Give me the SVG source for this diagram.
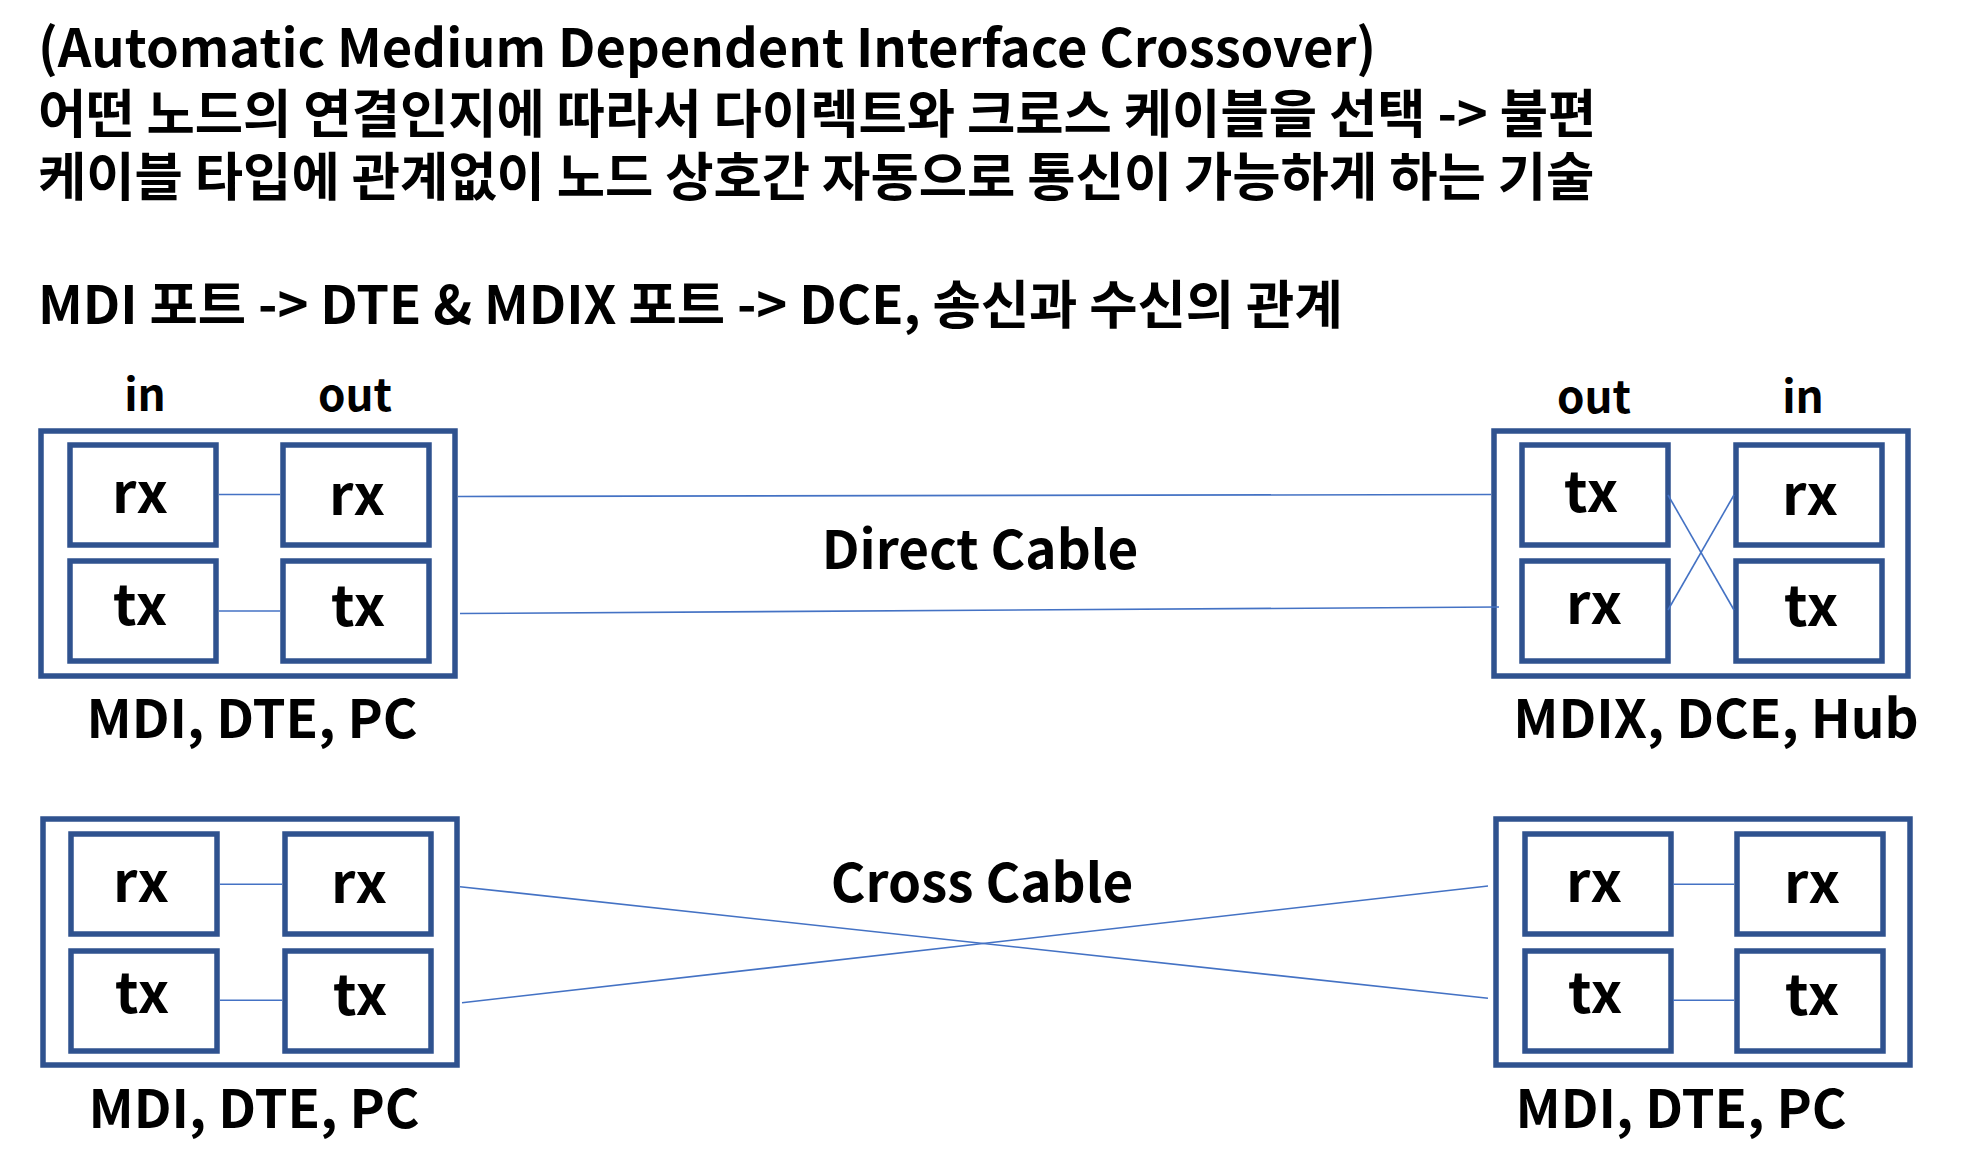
<svg xmlns="http://www.w3.org/2000/svg" width="1970" height="1154" viewBox="0 0 1970 1154">
<style>
text{font-family:"Noto Sans CJK KR","Noto Sans",sans-serif;font-weight:700;fill:#000}
.t{font-size:52.5px}
.lab{font-size:53px;text-anchor:middle}
.io{font-size:44px;text-anchor:middle}
.p{font-size:56px;text-anchor:middle}
.cab{font-size:53px;text-anchor:middle}
.ob{fill:#fff;stroke:#2F528F;stroke-width:5.5}
.ib{fill:#fff;stroke:#2F528F;stroke-width:5.5}
.c{stroke:#4472C4;stroke-width:1.6;fill:none}
</style>
<rect width="1970" height="1154" fill="#fff"/>
<g id="title">
<text class="t" x="38" y="67">(Automatic Medium Dependent Interface Crossover)</text>
<text class="t" x="38" y="133">어떤 노드의 연결인지에 따라서 다이렉트와 크로스 케이블을 선택 -&gt; 불편</text>
<text class="t" x="38" y="196">케이블 타입에 관계없이 노드 상호간 자동으로 통신이 가능하게 하는 기술</text>
<text class="t" x="38" y="324">MDI 포트 -&gt; DTE &amp; MDIX 포트 -&gt; DCE, 송신과 수신의 관계</text>
</g>
<g id="node-mdi-top">
<text class="io" x="145" y="411">in</text>
<text class="io" x="355" y="411">out</text>
<rect class="ob" x="41" y="431" width="414" height="245"/>
<rect class="ib" x="70" y="445" width="146" height="100"/>
<rect class="ib" x="283" y="445" width="146" height="100"/>
<rect class="ib" x="70" y="561" width="146" height="100"/>
<rect class="ib" x="283" y="561" width="146" height="100"/>
<text class="p" x="140" y="513">rx</text>
<text class="p" x="357" y="515">rx</text>
<text class="p" x="140" y="625">tx</text>
<text class="p" x="358" y="626">tx</text>
<text class="lab" x="252" y="738">MDI, DTE, PC</text>
</g>
<g id="node-mdix-top">
<text class="io" x="1594" y="413">out</text>
<text class="io" x="1803" y="413">in</text>
<rect class="ob" x="1494" y="431" width="414" height="245"/>
<rect class="ib" x="1522" y="445" width="146" height="100"/>
<rect class="ib" x="1736" y="445" width="146" height="100"/>
<rect class="ib" x="1522" y="561" width="146" height="100"/>
<rect class="ib" x="1736" y="561" width="146" height="100"/>
<text class="p" x="1591" y="512">tx</text>
<text class="p" x="1810" y="515">rx</text>
<text class="p" x="1594" y="624">rx</text>
<text class="p" x="1811" y="626">tx</text>
<text class="lab" x="1716" y="738">MDIX, DCE, Hub</text>
</g>
<g id="node-mdi-bl">
<rect class="ob" x="43" y="819" width="414" height="246"/>
<rect class="ib" x="71" y="834" width="146" height="100"/>
<rect class="ib" x="285" y="834" width="146" height="100"/>
<rect class="ib" x="71" y="951" width="146" height="100"/>
<rect class="ib" x="285" y="951" width="146" height="100"/>
<text class="p" x="141" y="902">rx</text>
<text class="p" x="359" y="903">rx</text>
<text class="p" x="142" y="1013">tx</text>
<text class="p" x="360" y="1015">tx</text>
<text class="lab" x="254" y="1128">MDI, DTE, PC</text>
</g>
<g id="node-mdi-br">
<rect class="ob" x="1496" y="819" width="414" height="246"/>
<rect class="ib" x="1525" y="834" width="146" height="100"/>
<rect class="ib" x="1737" y="834" width="146" height="100"/>
<rect class="ib" x="1525" y="951" width="146" height="100"/>
<rect class="ib" x="1737" y="951" width="146" height="100"/>
<text class="p" x="1594" y="902">rx</text>
<text class="p" x="1812" y="903">rx</text>
<text class="p" x="1595" y="1013">tx</text>
<text class="p" x="1812" y="1015">tx</text>
<text class="lab" x="1681" y="1128">MDI, DTE, PC</text>
</g>
<g id="cable-labels">
<text class="cab" x="980" y="569">Direct Cable</text>
<text class="cab" x="982" y="902">Cross Cable</text>
</g>
<g id="connectors">
<line class="c" x1="219" y1="494.5" x2="280" y2="494.5"/>
<line class="c" x1="219" y1="611" x2="280" y2="611"/>
<line class="c" x1="1668" y1="495" x2="1734" y2="610"/>
<line class="c" x1="1668" y1="610" x2="1734" y2="495"/>
<line class="c" x1="458" y1="496.5" x2="1491" y2="494.5"/>
<line class="c" x1="460" y1="613.5" x2="1499" y2="607"/>
<line class="c" x1="220" y1="884.3" x2="282" y2="884.3"/>
<line class="c" x1="220" y1="1000.3" x2="282" y2="1000.3"/>
<line class="c" x1="1673" y1="884.3" x2="1734" y2="884.3"/>
<line class="c" x1="1673" y1="1000.3" x2="1734" y2="1000.3"/>
<line class="c" x1="460" y1="886.7" x2="1488" y2="998.3"/>
<line class="c" x1="462" y1="1002.7" x2="1488" y2="886"/>
</g>
</svg>
